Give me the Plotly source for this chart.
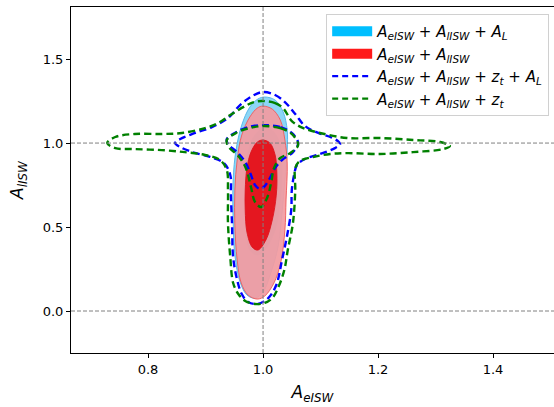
import plotly.graph_objects as go

# ---- axis ticks ----
x_ticks = [0.8, 1.0, 1.2, 1.4]
y_ticks = [0.0, 0.5, 1.0, 1.5]
x_range = [0.666, 1.506]
y_range = [-0.25, 1.81]
ref_x = [1.0]
ref_y = [0.0, 1.0]

# ---- A_eISW + A_lISW + A_L (filled, cyan) ----
cyan2_x = [1.003, 1.021, 1.035, 1.042, 1.042, 1.038, 1.033, 1.026, 1.014, 1.000, 0.986, 0.972, 0.960, 0.951, 0.948, 0.948, 0.953, 0.963, 0.977, 0.991]
cyan2_y = [1.274, 1.256, 1.185, 1.077, 0.958, 0.780, 0.583, 0.381, 0.232, 0.113, 0.077, 0.095, 0.173, 0.333, 0.542, 0.780, 0.958, 1.107, 1.214, 1.262]
cyan1_x = [1.003, 1.019, 1.030, 1.033, 1.030, 1.021, 1.003, 0.990, 0.977, 0.970, 0.969, 0.970, 0.977, 0.990]
cyan1_y = [1.089, 1.065, 0.988, 0.839, 0.661, 0.482, 0.363, 0.333, 0.363, 0.482, 0.661, 0.839, 0.988, 1.065]

# ---- A_eISW + A_lISW (filled, red) ----
red2_x = [1.000, 1.016, 1.030, 1.038, 1.042, 1.040, 1.038, 1.031, 1.019, 1.003, 0.990, 0.974, 0.962, 0.955, 0.951, 0.951, 0.955, 0.963, 0.977, 0.990]
red2_y = [1.220, 1.202, 1.137, 1.018, 0.881, 0.661, 0.482, 0.292, 0.167, 0.089, 0.071, 0.095, 0.167, 0.304, 0.512, 0.720, 0.899, 1.048, 1.155, 1.208]
red1_x = [1.000, 1.012, 1.021, 1.024, 1.023, 1.016, 1.005, 0.991, 0.981, 0.972, 0.969, 0.969, 0.972, 0.979, 0.990]
red1_y = [1.018, 1.000, 0.929, 0.821, 0.690, 0.542, 0.423, 0.363, 0.381, 0.470, 0.601, 0.720, 0.851, 0.946, 1.006]

# ---- A_eISW + A_lISW + z_t + A_L (blue dashed) ----
blue2_x = [1.000, 1.021, 1.038, 1.056, 1.073, 1.096, 1.117, 1.130, 1.134, 1.125, 1.099, 1.073, 1.059, 1.054, 1.050, 1.049, 1.042, 1.033, 1.023, 1.009,
           0.991, 0.974, 0.963, 0.955, 0.948, 0.946, 0.944, 0.943, 0.932, 0.908, 0.877, 0.856, 0.847, 0.856, 0.882, 0.911, 0.939, 0.960, 0.981]
blue2_y = [1.304, 1.286, 1.244, 1.173, 1.101, 1.060, 1.036, 1.012, 0.994, 0.970, 0.935, 0.905, 0.869, 0.810, 0.720, 0.601, 0.452, 0.304, 0.155, 0.077,
           0.042, 0.054, 0.101, 0.185, 0.321, 0.524, 0.690, 0.810, 0.881, 0.917, 0.946, 0.976, 1.000, 1.024, 1.060, 1.095, 1.149, 1.226, 1.280]
blue1_x = [1.000, 1.030, 1.050, 1.061, 1.052, 1.033, 1.021, 1.012, 1.003, 0.995, 0.986, 0.979, 0.970, 0.955, 0.939, 0.937, 0.951, 0.974]
blue1_y = [1.107, 1.095, 1.060, 1.000, 0.946, 0.899, 0.851, 0.792, 0.744, 0.726, 0.750, 0.810, 0.881, 0.946, 0.994, 1.024, 1.060, 1.095]

# ---- A_eISW + A_lISW + z_t (green dashed) ----
green2_x = [1.000, 1.021, 1.035, 1.050, 1.070, 1.099, 1.146, 1.203, 1.261, 1.308, 1.325, 1.313, 1.261, 1.203, 1.146, 1.117, 1.087, 1.064, 1.056, 1.056,
            1.052, 1.043, 1.037, 1.026, 1.016, 1.003, 0.986, 0.969, 0.957, 0.948, 0.943, 0.939, 0.939, 0.937, 0.925, 0.899, 0.864, 0.824, 0.777, 0.743,
            0.729, 0.743, 0.777, 0.824, 0.859, 0.899, 0.922, 0.943, 0.969, 0.984]
green2_y = [1.250, 1.238, 1.208, 1.131, 1.089, 1.060, 1.030, 1.030, 1.018, 1.006, 0.982, 0.964, 0.946, 0.935, 0.940, 0.935, 0.917, 0.893, 0.851, 0.720,
            0.524, 0.363, 0.244, 0.137, 0.077, 0.048, 0.042, 0.060, 0.101, 0.167, 0.321, 0.524, 0.720, 0.839, 0.899, 0.929, 0.946, 0.958, 0.964, 0.970,
            1.000, 1.036, 1.054, 1.054, 1.060, 1.089, 1.119, 1.167, 1.220, 1.244]
green1_x = [1.000, 1.030, 1.050, 1.061, 1.047, 1.030, 1.019, 1.014, 1.007, 0.997, 0.986, 0.979, 0.970, 0.957, 0.939, 0.937, 0.953, 0.976]
green1_y = [1.101, 1.089, 1.054, 0.988, 0.940, 0.911, 0.851, 0.762, 0.673, 0.619, 0.649, 0.738, 0.851, 0.923, 0.982, 1.018, 1.060, 1.089]

labels = [
    "<i>A</i><sub><i>eISW</i></sub> + <i>A</i><sub><i>lISW</i></sub> + <i>A</i><sub><i>L</i></sub>",
    "<i>A</i><sub><i>eISW</i></sub> + <i>A</i><sub><i>lISW</i></sub>",
    "<i>A</i><sub><i>eISW</i></sub> + <i>A</i><sub><i>lISW</i></sub> + <i>z</i><sub><i>t</i></sub> + <i>A</i><sub><i>L</i></sub>",
    "<i>A</i><sub><i>eISW</i></sub> + <i>A</i><sub><i>lISW</i></sub> + <i>z</i><sub><i>t</i></sub>",
]


def closed(a):
    return list(a) + [a[0]]


fig = go.Figure()


def fill_trace(xs, ys, fillcolor, linecolor, lw=1):
    fig.add_trace(go.Scatter(x=closed(xs), y=closed(ys), mode="lines", fill="toself",
                             fillcolor=fillcolor, line=dict(color=linecolor, width=lw, shape="spline", smoothing=1.0),
                             showlegend=False, hoverinfo="skip"))


def dash_trace(xs, ys, color):
    fig.add_trace(go.Scatter(x=closed(xs), y=closed(ys), mode="lines",
                             line=dict(color=color, width=2.4, dash="7px,4px", shape="spline", smoothing=1.0),
                             showlegend=False, hoverinfo="skip"))


fill_trace(cyan2_x, cyan2_y, "rgb(140,214,246)", "rgb(90,185,235)")
fill_trace(cyan1_x, cyan1_y, "rgb(90,195,240)", "rgba(90,195,240,0.8)")
fill_trace(red2_x, red2_y, "rgba(242,155,160,0.93)", "rgba(240,90,90,0.9)")
fill_trace(red1_x, red1_y, "rgba(228,18,26,0.96)", "rgba(220,20,30,0.9)")
dash_trace(blue2_x, blue2_y, "rgb(0,0,255)")
dash_trace(blue1_x, blue1_y, "rgb(0,0,255)")
dash_trace(green2_x, green2_y, "rgb(0,128,0)")
dash_trace(green1_x, green1_y, "rgb(0,128,0)")

# legend entries
legend_colors = ["rgb(0,191,255)", "rgb(255,25,25)"]
for lab, col in zip(labels[:2], legend_colors):
    fig.add_trace(go.Scatter(x=[None], y=[None], mode="lines", name=lab,
                             line=dict(color=col, width=11)))
for lab, col in zip(labels[2:], ["rgb(0,0,255)", "rgb(0,128,0)"]):
    fig.add_trace(go.Scatter(x=[None], y=[None], mode="lines", name=lab,
                             line=dict(color=col, width=2.4, dash="6px,4px")))

for v in ref_x:
    fig.add_vline(x=v, line=dict(color="gray", width=1, dash="4px,2px"), layer="above")
for v in ref_y:
    fig.add_hline(y=v, line=dict(color="gray", width=1, dash="4px,2px"), layer="above")

fig.update_layout(
    width=554, height=407,
    margin=dict(l=71, r=0, t=7, b=54),
    paper_bgcolor="white", plot_bgcolor="white",
    font=dict(family="DejaVu Sans", color="black"),
    legend=dict(x=0.99, y=0.98, xanchor="right", yanchor="top",
                bgcolor="rgba(255,255,255,0.85)", bordercolor="#d0d0d0", borderwidth=1,
                font=dict(size=15), itemwidth=40, tracegroupgap=0),
    xaxis=dict(range=x_range, tickvals=x_ticks, tickformat=".1f", showgrid=False, zeroline=False,
               showline=True, linecolor="black", linewidth=1, mirror=True,
               ticks="outside", ticklen=4, tickcolor="black", tickfont=dict(size=13),
               title=dict(text="<i>A</i><sub><i>eISW</i></sub>", font=dict(size=17), standoff=10)),
    yaxis=dict(range=y_range, tickvals=y_ticks, tickformat=".1f", showgrid=False, zeroline=False,
               showline=True, linecolor="black", linewidth=1,
               ticks="outside", ticklen=4, tickcolor="black", tickfont=dict(size=13),
               title=dict(text="<i>A</i><sub><i>lISW</i></sub>", font=dict(size=17), standoff=14)),
)

fig.write_html("out.html")
